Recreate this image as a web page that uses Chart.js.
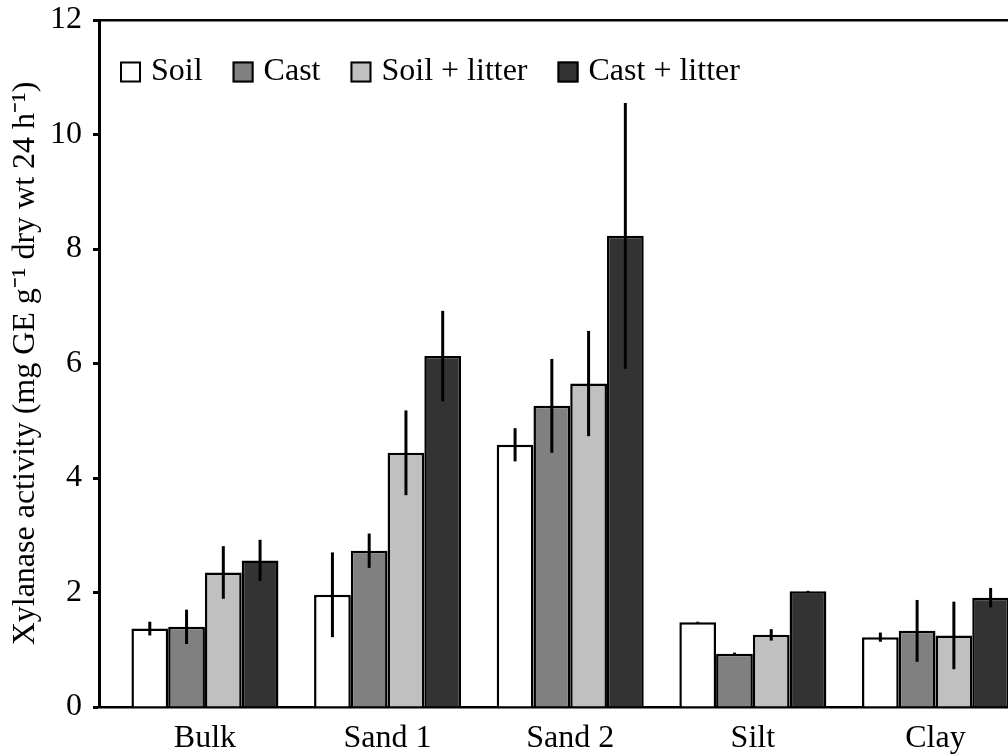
<!DOCTYPE html>
<html>
<head>
<meta charset="utf-8">
<script src="https://cdn.jsdelivr.net/npm/chart.js@4.4.1/dist/chart.umd.min.js"></script>
<style>
  html, body { margin: 0; padding: 0; background: #fff; }
  #wrap { width: 1008px; height: 754px; position: relative; }
</style>
</head>
<body>
<div id="wrap"><canvas id="xylChart"></canvas></div>
<script>
// Size fractions on the x axis
var fractions = ["Bulk", "Sand 1", "Sand 2", "Silt", "Clay"];
var yTicks = [0, 2, 4, 6, 8, 10, 12];

// Mean xylanase activity (mg GE g-1 dry wt 24 h-1)
var soil = [1.37, 1.96, 4.58, 1.48, 1.22];
var cast = [1.40, 2.73, 5.26, 0.93, 1.33];
var soilLitter = [2.35, 4.44, 5.65, 1.26, 1.25];
var castLitter = [2.56, 6.13, 8.23, 2.02, 1.91];

// Error bar half-lengths
var soilErr = [0.12, 0.74, 0.29, 0.01, 0.08];
var castErr = [0.30, 0.30, 0.82, 0.02, 0.54];
var soilLitterErr = [0.46, 0.74, 0.92, 0.10, 0.59];
var castLitterErr = [0.36, 0.79, 2.32, 0.01, 0.17];

var serif = "'Liberation Serif', 'Times New Roman', serif";
Chart.defaults.font.family = serif;
Chart.defaults.font.size = 32;
Chart.defaults.color = "#000";

function series(label, values, errors, fill) {
  return {
    label: label,
    data: values.map(function (v, i) { return { x: i, y: v }; }),
    errors: errors,
    backgroundColor: fill,
    borderColor: "#000",
    borderWidth: 2.5,
    categoryPercentage: 0.805,
    barPercentage: 1
  };
}

// vertical error lines, no caps
var errorBars = {
  id: "errorBars",
  afterDatasetsDraw: function (chart) {
    var ctx = chart.ctx;
    var yScale = chart.scales.y;
    ctx.save();
    ctx.strokeStyle = "#000";
    ctx.lineWidth = 3;
    chart.data.datasets.forEach(function (ds, i) {
      chart.getDatasetMeta(i).data.forEach(function (bar, j) {
        var v = ds.data[j].y;
        var e = ds.errors[j];
        ctx.beginPath();
        ctx.moveTo(bar.x, yScale.getPixelForValue(v + e));
        ctx.lineTo(bar.x, yScale.getPixelForValue(v - e));
        ctx.stroke();
      });
    });
    ctx.restore();
  }
};

// legend in one row inside the plot, top left
var insideLegend = {
  id: "insideLegend",
  afterDraw: function (chart) {
    var ctx = chart.ctx;
    var area = chart.chartArea;
    var box = 21;
    var x = area.left + 21;
    var cy = area.top + 52;
    ctx.save();
    ctx.font = "32px " + serif;
    ctx.textBaseline = "middle";
    chart.data.datasets.forEach(function (ds) {
      ctx.fillStyle = ds.backgroundColor;
      ctx.fillRect(x, cy - box / 2, box, box);
      ctx.lineWidth = 2;
      ctx.strokeStyle = "#000";
      ctx.strokeRect(x + 1, cy - box / 2 + 1, box - 2, box - 2);
      ctx.fillStyle = "#000";
      ctx.fillText(ds.label, x + box + 10, cy);
      x += box + 10 + ctx.measureText(ds.label).width + 30;
    });
    ctx.restore();
  }
};

new Chart(document.getElementById("xylChart"), {
  type: "bar",
  data: {
    datasets: [
      series("Soil", soil, soilErr, "#ffffff"),
      series("Cast", cast, castErr, "#808080"),
      series("Soil + litter", soilLitter, soilLitterErr, "#c0c0c0"),
      series("Cast + litter", castLitter, castLitterErr, "#333333")
    ]
  },
  options: {
    responsive: true,
    maintainAspectRatio: false,
    animation: false,
    events: [],
    layout: { padding: { top: 20, right: 0, bottom: 0, left: 0 } },
    plugins: {
      legend: { display: false },
      tooltip: { enabled: false }
    },
    scales: {
      x: {
        type: "linear",
        offset: false,
        min: -0.58,
        max: 4.397,
        afterBuildTicks: function (s) {
          s.ticks = fractions.map(function (f, i) { return { value: i }; });
        },
        ticks: {
          autoSkip: false,
          maxRotation: 0,
          padding: 12,
          callback: function (v) { return fractions[v]; }
        },
        grid: { display: false, drawTicks: false },
        border: { color: "#000", width: 2.5 },
        afterFit: function (s) { s.height = 47; }
      },
      top: {
        type: "linear",
        axis: "x",
        position: "top",
        ticks: { display: false },
        grid: { display: false, drawTicks: false },
        border: { color: "#000", width: 2.5 },
        afterFit: function (s) { s.height = 0; }
      },
      y: {
        min: 0,
        max: 12,
        afterBuildTicks: function (s) {
          s.ticks = yTicks.map(function (v) { return { value: v }; });
        },
        ticks: { padding: 11 },
        grid: {
          drawOnChartArea: false,
          drawTicks: true,
          tickLength: 6,
          tickWidth: 3,
          tickColor: "#000"
        },
        border: { color: "#000", width: 3 },
        title: {
          display: true,
          text: "Xylanase activity (mg GE g\u207B\u00B9 dry wt 24 h\u207B\u00B9)",
          padding: { top: 6, bottom: 0 }
        },
        afterFit: function (s) {
          s.width = 99;
          // the top label may sit half outside the plot
          s.paddingTop = 18;
        }
      }
    }
  },
  plugins: [errorBars, insideLegend]
});
</script>
</body>
</html>
